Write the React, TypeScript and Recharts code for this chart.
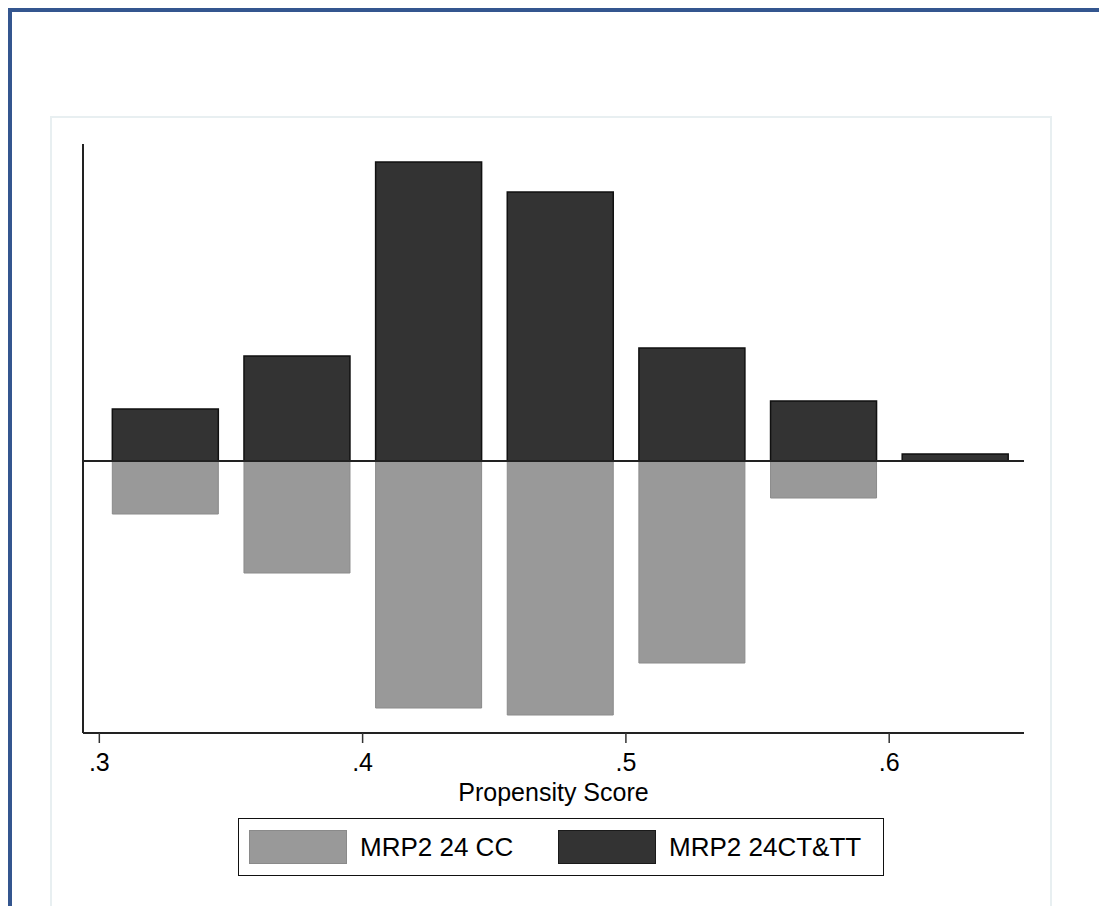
import React from 'react';
import { ComposedChart, Bar, XAxis, YAxis, ReferenceLine } from 'recharts';

// bin midpoints of the propensity score
const bins = [0.325, 0.375, 0.425, 0.475, 0.525, 0.575, 0.625];
// MRP2 24 CC, drawn mirrored below zero
const ccHeights = [5.3, 11.2, 24.7, 25.4, 20.2, 3.7, 0];
// MRP2 24CT&TT, drawn above zero
const ctttHeights = [5.2, 10.5, 29.9, 26.9, 11.3, 6.0, 0.7];
const xTicks = [0.3, 0.4, 0.5, 0.6];

const data = bins.map((x, i) => ({
  x,
  cc: -ccHeights[i],
  cttt: ctttHeights[i],
}));

const FONT = '"Liberation Sans", Arial, Helvetica, sans-serif';
const GRAY = '#999999';
const DARK = '#333333';

const fmtTick = (v: number) => String(Math.round(v * 10) / 10).replace(/^0/, '');

export default function App() {
  return (
    <div style={{ position: 'relative', width: 1099, height: 906, background: '#fff', fontFamily: FONT }}>
      <style>{'html,body{margin:0;padding:0;overflow:hidden;background:#fff}'}</style>

      {/* outer frame */}
      <div
        style={{
          position: 'absolute', left: 8, top: 8, width: 1091, height: 898,
          borderTop: '4px solid #34568f', borderLeft: '4px solid #34568f', boxSizing: 'border-box',
        }}
      />
      {/* inner plot region */}
      <div
        style={{
          position: 'absolute', left: 50, top: 116, width: 1002, height: 800,
          border: '2px solid #e8eff1', boxSizing: 'border-box',
        }}
      />

      <div style={{ position: 'absolute', left: 0, top: 0 }}>
        <ComposedChart
          width={1099}
          height={906}
          data={data}
          stackOffset="sign"
          margin={{ top: 144, right: 75, bottom: 143, left: 79 }}
        >
          <XAxis
            type="number"
            dataKey="x"
            domain={[0.2938, 0.6512]}
            allowDataOverflow
            ticks={xTicks}
            tickFormatter={fmtTick}
            height={30}
            tickSize={10}
            tickMargin={10}
            axisLine={{ stroke: '#222', strokeWidth: 2 }}
            tickLine={{ stroke: '#333', strokeWidth: 1.5 }}
            tick={{ fill: '#000', fontSize: 25, fontFamily: FONT }}
            label={(props: any) => {
              const vb = props.viewBox || { x: 83, y: 733, width: 941 };
              return (
                <text
                  x={vb.x + vb.width / 2}
                  y={vb.y + 68}
                  textAnchor="middle"
                  fill="#000"
                  fontSize={25}
                  fontFamily={FONT}
                >
                  Propensity Score
                </text>
              );
            }}
          />
          <YAxis
            type="number"
            domain={[-27.2, 31.7]}
            allowDataOverflow
            width={4}
            tick={false}
            tickLine={false}
            axisLine={{ stroke: '#222', strokeWidth: 2 }}
          />
          <Bar dataKey="cc" stackId="s" barSize={106} fill={GRAY} stroke="#8a8a8a" strokeWidth={1} isAnimationActive={false} />
          <Bar dataKey="cttt" stackId="s" barSize={106} fill={DARK} stroke="#111" strokeWidth={1.5} isAnimationActive={false} />
          <ReferenceLine y={0} stroke="#222" strokeWidth={2} />
        </ComposedChart>
      </div>

      {/* legend */}
      <div
        style={{
          position: 'absolute', left: 238, top: 818, width: 646, height: 58,
          border: '1.5px solid #111', boxSizing: 'border-box', background: '#fff',
        }}
      />
      <div style={{ position: 'absolute', left: 249, top: 830, width: 98, height: 34, background: GRAY, border: '1px solid #8a8a8a', boxSizing: 'border-box' }} />
      <div style={{ position: 'absolute', left: 360, top: 830, height: 34, lineHeight: '34px', fontSize: 26, color: '#000', whiteSpace: 'nowrap' }}>
        MRP2 24 CC
      </div>
      <div style={{ position: 'absolute', left: 558, top: 830, width: 98, height: 34, background: DARK, border: '1px solid #1a1a1a', boxSizing: 'border-box' }} />
      <div style={{ position: 'absolute', left: 669, top: 830, height: 34, lineHeight: '34px', fontSize: 26, color: '#000', whiteSpace: 'nowrap' }}>
        MRP2 24CT&amp;TT
      </div>
    </div>
  );
}
